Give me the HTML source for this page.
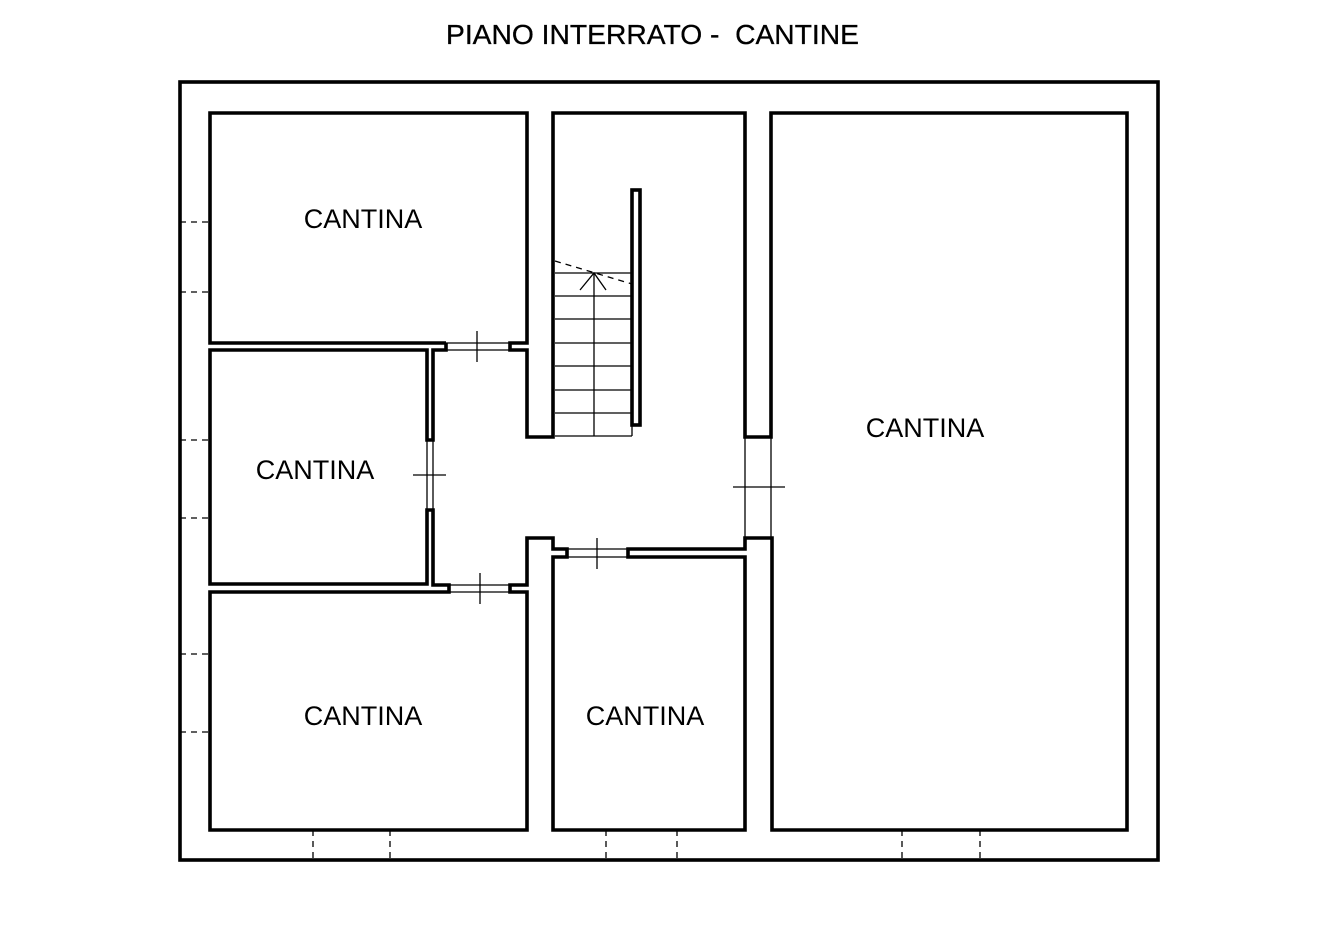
<!DOCTYPE html>
<html><head><meta charset="utf-8"><style>
html,body{margin:0;padding:0;background:#fff;}
svg{display:block;}
</style></head><body>
<svg width="1339" height="933" viewBox="0 0 1339 933" xmlns="http://www.w3.org/2000/svg">
<rect width="1339" height="933" fill="#fff"/>
<text x="446" y="44" font-family="Liberation Sans, sans-serif" font-size="28" textLength="413" lengthAdjust="spacingAndGlyphs" fill="#000" stroke="#000" stroke-width="0.3">PIANO INTERRATO -&#160; CANTINE</text>
<g fill="none" stroke="#000" stroke-width="3.6" stroke-linejoin="miter">
<rect x="180" y="82" width="978" height="778"/>
<polyline points="446,343 210,343 210,113 527,113 527,343 510,343 510,350 527,350 527,437 553,437 553,113 745,113 745,437 771,437 771,113 1127,113 1127,830 772,830 772,538 745,538 745,549 628,549 628,557 745,557 745,830 553,830 553,557 567,557 567,549 553,549 553,538 527,538 527,585 510,585 510,592 527,592 527,830 210,830 210,592 449,592 449,585 433,585 433,510 427,510 427,584 210,584 210,350 427,350 427,440 433,440 433,350 446,350 446,343"/>
<rect x="632" y="190" width="8" height="235"/>
</g>
<g stroke="#000" stroke-width="1.3" fill="none">
<line x1="446" y1="343" x2="510" y2="343"/><line x1="446" y1="350" x2="510" y2="350"/><line x1="477" y1="331" x2="477" y2="362"/>
<line x1="427" y1="440" x2="427" y2="510"/><line x1="433" y1="440" x2="433" y2="510"/><line x1="413" y1="475" x2="446" y2="475"/>
<line x1="449" y1="585" x2="510" y2="585"/><line x1="449" y1="592" x2="510" y2="592"/><line x1="480" y1="573" x2="480" y2="604"/>
<line x1="567" y1="549" x2="628" y2="549"/><line x1="567" y1="557" x2="628" y2="557"/><line x1="597" y1="538" x2="597" y2="569"/>
<line x1="745" y1="437" x2="745" y2="538"/><line x1="771" y1="437" x2="771" y2="538"/><line x1="733" y1="487" x2="785" y2="487"/>
<line x1="555" y1="273" x2="632" y2="273"/><line x1="555" y1="296" x2="632" y2="296"/><line x1="555" y1="319" x2="632" y2="319"/><line x1="555" y1="343" x2="632" y2="343"/><line x1="555" y1="366" x2="632" y2="366"/><line x1="555" y1="390" x2="632" y2="390"/><line x1="555" y1="413" x2="632" y2="413"/><line x1="555" y1="436" x2="632" y2="436"/>
<line x1="632" y1="425" x2="632" y2="436"/>
<line x1="594" y1="273" x2="594" y2="436"/>
<polyline points="580,290 594,273 606,290"/>
<line x1="555" y1="261" x2="632" y2="284" stroke-dasharray="6,5"/>
<g stroke-dasharray="6,5">
<line x1="180" y1="222" x2="210" y2="222"/><line x1="180" y1="292" x2="210" y2="292"/>
<line x1="180" y1="440" x2="210" y2="440"/><line x1="180" y1="518" x2="210" y2="518"/>
<line x1="180" y1="654" x2="210" y2="654"/><line x1="180" y1="732" x2="210" y2="732"/>
<line x1="313" y1="830" x2="313" y2="860"/><line x1="390" y1="830" x2="390" y2="860"/>
<line x1="606" y1="830" x2="606" y2="860"/><line x1="677" y1="830" x2="677" y2="860"/>
<line x1="902" y1="830" x2="902" y2="860"/><line x1="980" y1="830" x2="980" y2="860"/>
</g>
</g>
<g font-family="Liberation Sans, sans-serif" font-size="27" fill="#000" text-anchor="middle">
<text x="363" y="228">CANTINA</text>
<text x="315" y="479">CANTINA</text>
<text x="363" y="725">CANTINA</text>
<text x="645" y="725">CANTINA</text>
<text x="925" y="437">CANTINA</text>
</g>
</svg>
</body></html>
